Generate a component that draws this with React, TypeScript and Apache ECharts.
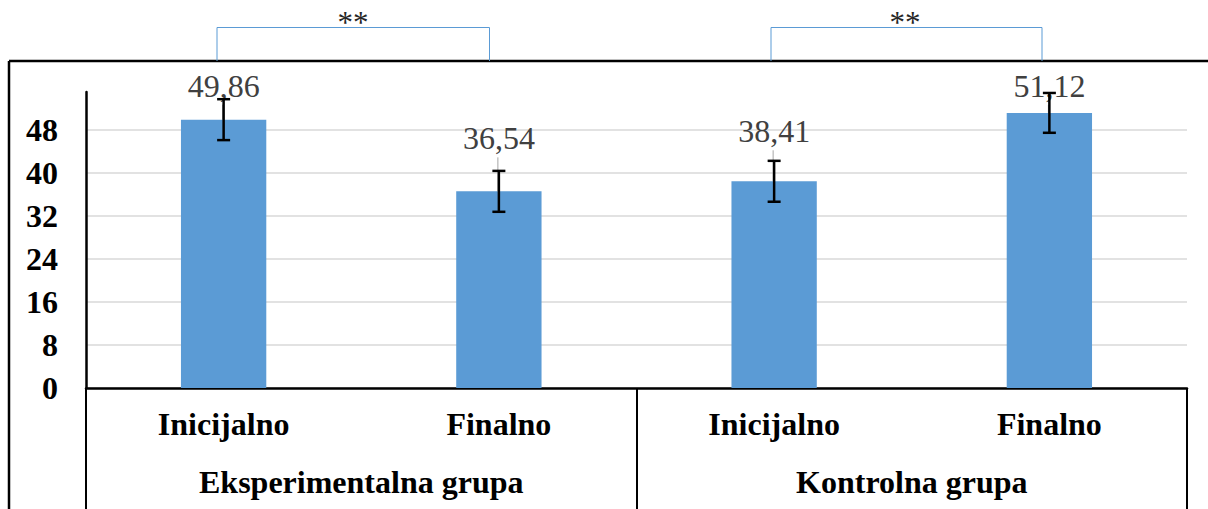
import React, { useEffect, useRef } from 'react';
import * as echarts from 'echarts';

const categories = ['Inicijalno', 'Finalno', 'Inicijalno', 'Finalno'];
const groups = ['Eksperimentalna grupa', 'Kontrolna grupa'];
const means = [49.86, 36.54, 38.41, 51.12];
const errors = [3.8, 3.8, 3.8, 3.7];
const significance = ['**', '**'];
const yMin = 0;
const yMax = 55;
const yStep = 8;

const FONT = '"Liberation Serif", "Times New Roman", serif';
const BLUE = '#5b9bd5';
const labelGaps = [18, 37, 34, 11];

export default function App() {
  const ref = useRef<HTMLDivElement>(null);

  useEffect(() => {
    if (!ref.current) return;
    const chart = echarts.init(ref.current, undefined, { renderer: 'svg' });

    const option: any = {
      animation: false,
      backgroundColor: '#ffffff',
      grid: { left: 86, right: 21, top: 92, bottom: 121, containLabel: false },
      xAxis: [
        {
          type: 'category',
          data: categories,
          position: 'bottom',
          axisLine: { show: true, lineStyle: { color: '#000', width: 2.5 } },
          axisTick: { show: false },
          axisLabel: {
            interval: 0,
            margin: 20,
            fontFamily: FONT,
            fontWeight: 'bold',
            fontSize: 32,
            color: '#000',
          },
        },
        {
          type: 'category',
          data: groups,
          position: 'bottom',
          axisLine: { show: false },
          axisTick: { show: true, length: 121, lineStyle: { color: '#000', width: 2 } },
          axisLabel: {
            interval: 0,
            margin: 78,
            fontFamily: FONT,
            fontWeight: 'bold',
            fontSize: 32,
            color: '#000',
          },
        },
      ],
      yAxis: {
        type: 'value',
        min: yMin,
        max: yMax,
        interval: yStep,
        axisLine: { show: true, lineStyle: { color: '#000', width: 2.5 } },
        axisTick: { show: false },
        axisLabel: {
          margin: 28,
          showMaxLabel: false,
          fontFamily: FONT,
          fontWeight: 'bold',
          fontSize: 32,
          color: '#000',
        },
        splitLine: {
          show: true,
          showMaxLine: false,
          lineStyle: { color: '#d9d9d9', width: 1.5 },
        },
      },
      series: [
        {
          type: 'bar',
          xAxisIndex: 0,
          yAxisIndex: 0,
          barWidth: '31%',
          itemStyle: { color: BLUE },
          data: means.map((v, i) => ({
            value: v,
            label: { distance: labelGaps[i] },
          })),
          label: {
            show: true,
            position: 'top',
            fontFamily: FONT,
            fontSize: 32,
            color: '#404040',
            formatter: (p: any) => means[p.dataIndex].toFixed(2).replace('.', ','),
          },
          z: 2,
        },
        {
          type: 'custom',
          xAxisIndex: 0,
          yAxisIndex: 0,
          encode: { x: 0, y: 1 },
          data: means.map((v, i) => [i, v, errors[i]]),
          z: 3,
          renderItem: (params: any, api: any) => {
            const idx = api.value(0);
            const m = api.value(1);
            const e = api.value(2);
            const top = api.coord([idx, m + e]);
            const bot = api.coord([idx, m - e]);
            const barTop = api.coord([idx, m]);
            const cap = 6.5;
            const gap = labelGaps[params.dataIndex];
            return {
              type: 'group',
              children: [
                {
                  type: 'line',
                  shape: { x1: barTop[0] - 1, y1: barTop[1], x2: barTop[0] - 1, y2: barTop[1] - gap + 3 },
                  style: { stroke: '#a6a6a6', lineWidth: 1 },
                },
                {
                  type: 'line',
                  shape: { x1: top[0], y1: top[1], x2: bot[0], y2: bot[1] },
                  style: { stroke: '#000', lineWidth: 2.5 },
                },
                {
                  type: 'line',
                  shape: { x1: top[0] - cap, y1: top[1], x2: top[0] + cap, y2: top[1] },
                  style: { stroke: '#000', lineWidth: 2.5 },
                },
                {
                  type: 'line',
                  shape: { x1: bot[0] - cap, y1: bot[1], x2: bot[0] + cap, y2: bot[1] },
                  style: { stroke: '#000', lineWidth: 2.5 },
                },
              ],
            };
          },
        },
      ],
      graphic: [
        {
          type: 'line',
          shape: { x1: 9, y1: 61, x2: 1208, y2: 61 },
          style: { stroke: '#000', lineWidth: 2.5 },
        },
        {
          type: 'line',
          shape: { x1: 9, y1: 61, x2: 9, y2: 509 },
          style: { stroke: '#000', lineWidth: 2.5 },
        },
        {
          type: 'polyline',
          shape: { points: [[217, 61], [217, 27.5], [489.5, 27.5], [489.5, 61]] },
          style: { stroke: BLUE, lineWidth: 1, fill: 'none' },
        },
        {
          type: 'polyline',
          shape: { points: [[771, 61], [771, 27.5], [1042, 27.5], [1042, 61]] },
          style: { stroke: BLUE, lineWidth: 1, fill: 'none' },
        },
        {
          type: 'text',
          x: 353,
          y: 22,
          style: {
            text: significance[0],
            font: `31px ${FONT}`,
            fill: '#262626',
            textAlign: 'center',
            textVerticalAlign: 'middle',
          },
        },
        {
          type: 'text',
          x: 905,
          y: 22,
          style: {
            text: significance[1],
            font: `31px ${FONT}`,
            fill: '#262626',
            textAlign: 'center',
            textVerticalAlign: 'middle',
          },
        },
      ],
    };

    chart.setOption(option);
    return () => chart.dispose();
  }, []);

  return (
    <div
      ref={ref}
      style={{ position: 'absolute', left: 0, top: 0, width: 1208, height: 509 }}
    />
  );
}
